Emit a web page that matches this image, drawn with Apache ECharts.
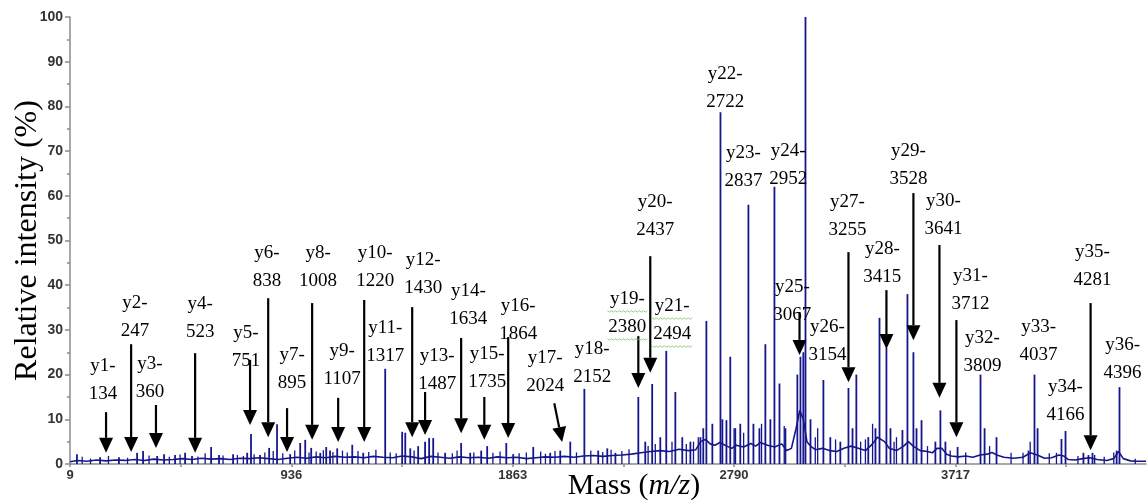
<!DOCTYPE html>
<html><head><meta charset="utf-8">
<script src="https://cdn.jsdelivr.net/npm/echarts@6/dist/echarts.min.js"></script>
<style>html,body{margin:0;padding:0;background:#fff}#c{width:1148px;height:503px}</style>
</head><body><div id="c"></div>
<script>
// ---- axis ticks ----
const xTickValues = [9, 936, 1863, 2790, 3717];
const xMinorTickValues = [472.5, 1399.5, 2326.5, 3253.5, 4180.5];

// ---- spectrum baseline (m/z, relative intensity %) ----
const baselineMz = [9,40,80,120,160,200,240,280,320,360,400,440,480,520,560,600,640,680,720,760,800,840,880,920,960,1000,1040,1080,1120,1160,1200,1240,1280,1320,1360,1400,1440,1480,1520,1560,1600,1640,1680,1720,1760,1800,1840,1880,1920,1960,2000,2040,2080,2120,2160,2200,2240,2280,2320,2360,2400,2440,2480,2520,2560,2600,2630,2650,2670,2690,2710,2730,2760,2780,2800,2830,2860,2880,2900,2930,2960,2990,3010,3030,3050,3065,3080,3095,3110,3130,3160,3190,3220,3250,3280,3310,3340,3370,3390,3420,3440,3470,3500,3520,3540,3570,3600,3620,3640,3660,3680,3700,3730,3760,3790,3820,3850,3870,3890,3920,3960,4000,4030,4060,4090,4120,4150,4170,4190,4220,4250,4280,4310,4350,4380,4400,4420,4450,4480,4515];
const baselineIntensity = [0.5,0.8,0.6,0.9,0.7,0.9,0.8,1.0,0.8,1.1,0.9,1.0,1.2,1.0,1.3,1.1,1.2,1.0,1.3,1.2,1.4,1.2,1.0,1.3,1.5,1.3,1.6,1.4,1.7,1.5,1.6,1.4,1.7,1.5,1.4,1.8,1.6,1.2,1.7,1.5,1.3,1.6,1.4,1.5,1.3,1.6,1.4,1.5,1.2,1.4,1.6,1.5,1.7,1.5,1.8,1.9,1.7,1.9,2.0,2.2,2.5,2.8,3.0,2.8,3.3,3.0,3.2,5.0,5.5,4.5,4.2,4.8,4.0,3.5,4.2,3.8,4.6,4.0,4.8,4.2,3.8,4.5,3.0,3.5,8.0,12.0,10.0,5.0,4.0,3.2,3.5,3.0,2.8,3.5,4.0,3.5,3.0,4.5,6.0,5.0,3.5,3.0,4.0,5.0,4.0,3.0,2.8,2.5,3.5,3.5,2.2,1.8,1.6,1.8,1.5,2.0,2.2,2.6,2.0,1.5,1.3,1.5,2.5,2.0,1.3,1.4,2.0,1.8,1.0,0.9,1.2,1.4,1.0,0.8,1.2,2.8,1.2,0.7,0.6,0.6];

// ---- spectrum peaks ----
const peakMz = [38,135,214,290,315,374,403,449,491,520,600,633,692,751,767,805,843,876,931,973,994,1019,1057,1082,1098,1128,1191,1237,1329,1400,1413,1434,1467,1496,1513,1530,1580,1647,1685,1731,1756,1836,1865,1949,2020,2062,2104,2163,2221,2259,2293,2389,2418,2447,2481,2506,2544,2573,2607,2649,2661,2674,2699,2733,2741,2758,2774,2795,2816,2850,2871,2896,2921,2942,2959,2980,3005,3055,3068,3080,3089,3110,3164,3193,3235,3269,3286,3302,3352,3382,3399,3428,3445,3495,3516,3541,3554,3575,3633,3654,3675,3726,3822,3839,3889,4023,4048,4061,4161,4178,4253,4274,4291,4392,4404];
const peakIntensity = [2.2,1.5,1.5,2.5,2.9,1.8,2.2,2.0,2.5,1.8,3.8,2.0,2.2,2.5,6.7,2.0,3.6,8.9,2.2,4.7,5.4,3.6,2.5,3.8,3.0,3.5,4.3,2.5,21.3,7.2,7.0,3.5,4.0,5.0,5.8,5.8,2.5,4.7,2.5,3.0,4.0,4.7,2.2,3.8,2.5,3.0,5.0,16.8,3.0,3.5,2.5,15.0,5.0,17.9,6.0,25.3,16.1,6.0,5.0,6.0,8.0,32.0,9.0,78.7,10.0,9.8,24.0,8.0,9.0,58.0,9.0,8.0,26.8,10.0,62.0,18.0,8.0,20.0,24.0,25.0,100,10.0,18.8,6.0,5.0,17.0,8.0,20.0,6.0,8.0,32.7,26.0,8.0,7.6,38.0,25.0,8.0,9.8,5.0,12.0,5.0,3.8,20.0,8.0,6.0,3.0,20.0,8.0,5.6,7.4,2.5,2.0,2.5,3.0,17.2];
// small noise spikes
const minorPeakMz = [60,95,170,250,340,425,470,545,575,650,710,735,780,825,860,900,950,1010,1040,1070,1110,1150,1170,1215,1260,1290,1350,1375,1450,1550,1610,1630,1700,1780,1810,1890,1920,1980,2000,2040,2130,2190,2240,2275,2320,2350,2430,2460,2530,2590,2620,2640,2790,2830,2905,3000,3130,3140,3215,3320,3340,3370,3460,3470,3600,3695,3760,3860,3950,4000,4030,4110,4140,4230,4300,4340,4380,4470];
const minorPeakIntensity = [1.6,1.2,1.8,1.4,1.9,1.6,2.1,1.7,2.4,1.9,2.0,1.8,2.2,2.6,2.9,2.4,3.0,2.6,2.8,3.1,2.7,3.0,2.6,2.9,2.7,3.2,2.6,2.4,3.0,2.6,2.4,3.0,2.6,2.5,2.8,2.4,2.6,2.8,2.3,2.9,2.6,3.0,2.7,3.2,2.9,3.3,4.0,4.5,5.0,4.5,5.0,6.0,8.0,7.0,9.0,8.5,6.0,8.0,5.5,5.0,5.5,9.0,5.0,6.0,4.0,3.0,2.6,4.0,2.5,2.5,5.0,2.4,2.5,1.8,2.0,1.6,2.6,1.2];

// ---- fragment-ion annotations ----
const ionNames = ['y1','y2','y3','y4','y5','y6','y7','y8','y9','y10','y11','y12','y13','y14','y15','y16','y17','y18','y19','y20','y21','y22','y23','y24','y25','y26','y27','y28','y29','y30','y31','y32','y33','y34','y35','y36'];
const ionMasses = [134,247,360,523,751,838,895,1008,1107,1220,1317,1430,1487,1634,1735,1864,2024,2152,2380,2437,2494,2722,2837,2952,3067,3154,3255,3415,3528,3641,3712,3809,4037,4166,4281,4396];
const labelMz = [147,281,344,554,746,834,939,1048,1149,1287,1329,1488,1547,1677,1756,1886,1999,2196,2343,2460,2531,2753,2829,3017,3034,3181,3265,3411,3520,3667,3780,3830,4065,4178,4291,4417];
const labelIntensity = [18.8,32.9,19.2,32.7,26.2,44.1,21.3,44.1,22.1,44.1,27.3,42.5,21.0,35.6,21.5,32.2,20.6,22.6,33.8,55.5,32.2,84.1,66.4,66.9,36.5,27.5,55.5,45.0,66.9,55.7,38.9,25.1,27.5,14.1,44.3,23.5];
const underlinedIons = ['y19','y21'];

// ---- arrows (tail m/z, tail intensity, tip m/z, tip intensity) ----
const arrowIons = ['y1','y2','y3','y4','y5','y6','y7','y8','y9','y10','y12','y13','y14','y15','y16','y17','y19','y20','y25','y27','y28','y29','y30','y31','y35'];
const arrowTailMz = [160,265,369,533,763,839,918,1023,1132,1241,1442,1496,1647,1744,1844,2037,2389,2439,3064,3269,3428,3541,3650,3721,4283];
const arrowTailIntensity = [11.6,26.8,13.2,24.8,23.3,37.1,12.5,36.0,14.8,36.7,35.1,16.1,28.2,15.0,28.4,13.6,28.6,46.5,34.0,47.4,38.9,60.6,49.0,32.2,36.0];
const arrowTipMz = [160,265,369,533,763,839,918,1023,1132,1241,1442,1496,1647,1744,1844,2070,2389,2439,3064,3269,3428,3541,3650,3721,4283];
const arrowTipIntensity = [2.5,2.7,3.6,2.5,8.7,6.0,2.7,5.4,4.9,4.9,6.0,6.5,6.9,5.4,5.8,4.9,17.0,20.4,24.4,18.3,25.7,27.7,14.8,6.0,3.1];

const NAVY = '#16168c';
const SERIF = '"Liberation Serif","Times New Roman",serif';

const chart = echarts.init(document.getElementById('c'), null, {renderer: 'canvas'});

const stickSeries = function (name, mz, inten, width) {
  return {
    type: 'custom', name: name,
    data: mz.map((m, i) => [m, inten[i]]),
    encode: {x: 0, y: 1},
    renderItem: function (params, api) {
      const top = api.coord([api.value(0), api.value(1)]);
      const bot = api.coord([api.value(0), 0]);
      return {type: 'line', shape: {x1: top[0], y1: top[1], x2: bot[0], y2: bot[1]},
        style: {stroke: NAVY, lineWidth: width}};
    }, z: 3, silent: true
  };
};

const option = {
  animation: false,
  backgroundColor: '#ffffff',
  grid: {left: 70, right: 2, top: 17, bottom: 39, containLabel: false, outerBoundsMode: 'none'},
  xAxis: {
    type: 'value', min: 9, max: 4515,
    name: '{a|Mass (}{b|m/z}{a|)}',
    nameLocation: 'middle', nameGap: 7, nameMoveOverlap: false,
    nameTextStyle: {
      verticalAlign: 'top', padding: [0, 0, 0, 52],
      rich: {
        a: {fontFamily: SERIF, fontSize: 30, color: '#000'},
        b: {fontFamily: SERIF, fontSize: 30, fontStyle: 'italic', color: '#000'}
      }
    },
    axisLine: {show: true, onZero: false, lineStyle: {color: '#8c8c8c', width: 1.5}},
    axisTick: {show: true, length: 3, customValues: xTickValues.concat(xMinorTickValues), lineStyle: {color: '#8c8c8c', width: 1.5}},
    axisLabel: {customValues: xTickValues, formatter: function (v) { return String(v); }, margin: 5, fontFamily: '"Liberation Sans",Arial,sans-serif', fontWeight: 'bold', fontSize: 13, color: '#333'},
    splitLine: {show: false}
  },
  yAxis: {
    type: 'value', min: 0, max: 100, interval: 10,
    name: 'Relative intensity (%)',
    nameLocation: 'middle', nameGap: 26, nameMoveOverlap: false,
    nameTextStyle: {fontFamily: SERIF, fontSize: 32, color: '#000'},
    axisLine: {show: true, lineStyle: {color: '#8c8c8c', width: 1.5}},
    axisTick: {show: true, length: 5, lineStyle: {color: '#8c8c8c', width: 1.5}},
    minorTick: {show: true, splitNumber: 2, length: 3, lineStyle: {color: '#8c8c8c', width: 1.5}},
    axisLabel: {margin: 7, fontFamily: '"Liberation Sans",Arial,sans-serif', fontWeight: 'bold', fontSize: 14, color: '#333'},
    splitLine: {show: false}
  },
  series: [
    {
      type: 'line', name: 'baseline',
      data: baselineMz.map((m, i) => [m, baselineIntensity[i]]),
      symbol: 'none', lineStyle: {color: NAVY, width: 1.6}, z: 2, silent: true
    },
    stickSeries('minor peaks', minorPeakMz, minorPeakIntensity, 1.3),
    stickSeries('peaks', peakMz, peakIntensity, 1.8),
    {
      type: 'custom', name: 'arrows',
      data: arrowIons.map((n, i) => [arrowTailMz[i], arrowTailIntensity[i], arrowTipMz[i], arrowTipIntensity[i]]),
      encode: {x: [0, 2], y: [1, 3]},
      renderItem: function (params, api) {
        const a = api.coord([api.value(0), api.value(1)]);
        const b = api.coord([api.value(2), api.value(3)]);
        const dx = b[0] - a[0], dy = b[1] - a[1];
        const len = Math.sqrt(dx * dx + dy * dy);
        const ux = dx / len, uy = dy / len;
        const hl = 15, hw = 7;
        const bx = b[0] - ux * hl, by = b[1] - uy * hl;
        return {type: 'group', children: [
          {type: 'line', shape: {x1: a[0], y1: a[1], x2: bx, y2: by}, style: {stroke: '#000', lineWidth: 2.2}},
          {type: 'polygon', shape: {points: [[b[0], b[1]], [bx - uy * hw, by + ux * hw], [bx + uy * hw, by - ux * hw]]}, style: {fill: '#000'}}
        ]};
      }, z: 5, silent: true
    },
    {
      type: 'custom', name: 'labels',
      data: ionNames.map((n, i) => [labelMz[i], labelIntensity[i], i]),
      encode: {x: 0, y: 1},
      renderItem: function (params, api) {
        const i = api.value(2);
        const p = api.coord([api.value(0), api.value(1)]);
        const children = [{type: 'text', style: {text: ionNames[i] + '-\n' + ionMasses[i], x: p[0], y: p[1],
          align: 'center', verticalAlign: 'middle', font: '19px ' + SERIF, lineHeight: 28, fill: '#000'}}];
        if (underlinedIons.indexOf(ionNames[i]) >= 0) {
          [p[1] - 2, p[1] + 26].forEach(function (uy) {
            const pts = [];
            for (let k = 0; k <= 20; k++) pts.push([p[0] - 20 + k * 2, uy + (k % 2 ? 1.2 : -0.2)]);
            children.push({type: 'polyline', shape: {points: pts}, style: {stroke: '#7cc35a', lineWidth: 0.8, fill: null}});
          });
        }
        return {type: 'group', children: children};
      }, z: 6, silent: true
    }
  ]
};
chart.setOption(option);
</script></body></html>
